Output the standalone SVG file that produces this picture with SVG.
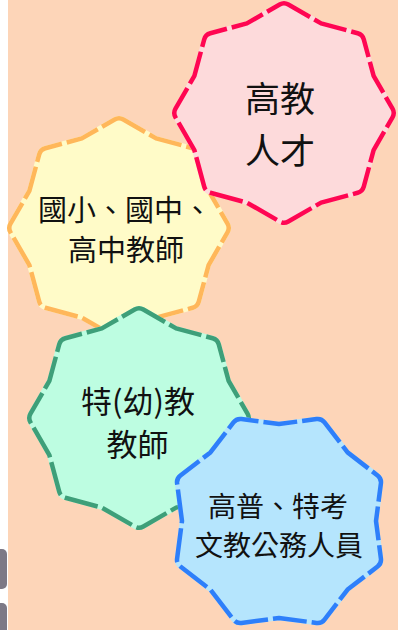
<svg xmlns="http://www.w3.org/2000/svg" xmlns:xlink="http://www.w3.org/1999/xlink" width="398" height="630" viewBox="0 0 398 630">
<style>
.under{stroke-width:4.5;stroke-linejoin:round}
.dash{fill:none;stroke-width:4.5;stroke-linejoin:round;stroke-dasharray:34 5}
text{font-family:"Noto Sans CJK TC","Noto Sans CJK SC",sans-serif;fill:#111;text-anchor:middle}
</style>
<defs>
<path id="star" d="M-4.33,-108.5 Q0,-111 4.33,-108.5 L37.12,-89.62 L73.66,-79.78 Q78.49,-78.49 79.78,-73.66 L89.62,-37.12 L108.5,-4.33 Q111,0 108.5,4.33 L89.62,37.12 L79.78,73.66 Q78.49,78.49 73.66,79.78 L37.12,89.62 L4.33,108.5 Q0,111 -4.33,108.5 L-37.12,89.62 L-73.66,79.78 Q-78.49,78.49 -79.78,73.66 L-89.62,37.12 L-108.5,4.33 Q-111,0 -108.5,-4.33 L-89.62,-37.12 L-79.78,-73.66 Q-78.49,-78.49 -73.66,-79.78 L-37.12,-89.62 Z"/>
</defs>
<rect x="0" y="0" width="398" height="630" fill="#ffffff"/>
<rect x="8" y="0" width="390" height="630" fill="#fdd5b8"/>
<rect x="-6" y="549" width="13" height="40" rx="5" fill="#7d7986"/>
<rect x="-6" y="603" width="13" height="40" rx="5" fill="#7d7986"/>
<g id="connectors"></g>
<g id="node-school">
<use xlink:href="#star" href="#star" transform="translate(119,228)" class="under" fill="#fffbc8" stroke="#fffbc8"/>
<use xlink:href="#star" href="#star" transform="translate(119,228)" class="dash" stroke="#ffb75a"/>
<text x="125" y="220.5" font-size="29">國小、國中、</text>
<text x="126" y="261" font-size="29">高中教師</text>
</g>
<g id="node-higher">
<use xlink:href="#star" href="#star" transform="translate(284,113)" class="under" fill="#fddadb" stroke="#fddadb"/>
<use xlink:href="#star" href="#star" transform="translate(284,113)" class="dash" stroke="#ff0652"/>
<text x="280" y="111.5" font-size="35">高教</text>
<text x="280" y="163.5" font-size="35">人才</text>
</g>
<g id="node-special">
<use xlink:href="#star" href="#star" transform="translate(139,418)" class="under" fill="#bdfde1" stroke="#bdfde1"/>
<use xlink:href="#star" href="#star" transform="translate(139,418)" class="dash" stroke="#3e9f79"/>
<text x="138" y="413" font-size="31">特(幼)教</text>
<text x="137.5" y="456" font-size="31">教師</text>
</g>
<g id="node-civil">
<use xlink:href="#star" href="#star" transform="translate(279,521) rotate(22.5)" class="under" fill="#b5e5fd" stroke="#b5e5fd"/>
<use xlink:href="#star" href="#star" transform="translate(279,521) rotate(22.5)" class="dash" stroke="#2e7ffa"/>
<text x="278" y="516.5" font-size="28">高普、特考</text>
<text x="279" y="556" font-size="28">文教公務人員</text>
</g>
</svg>
